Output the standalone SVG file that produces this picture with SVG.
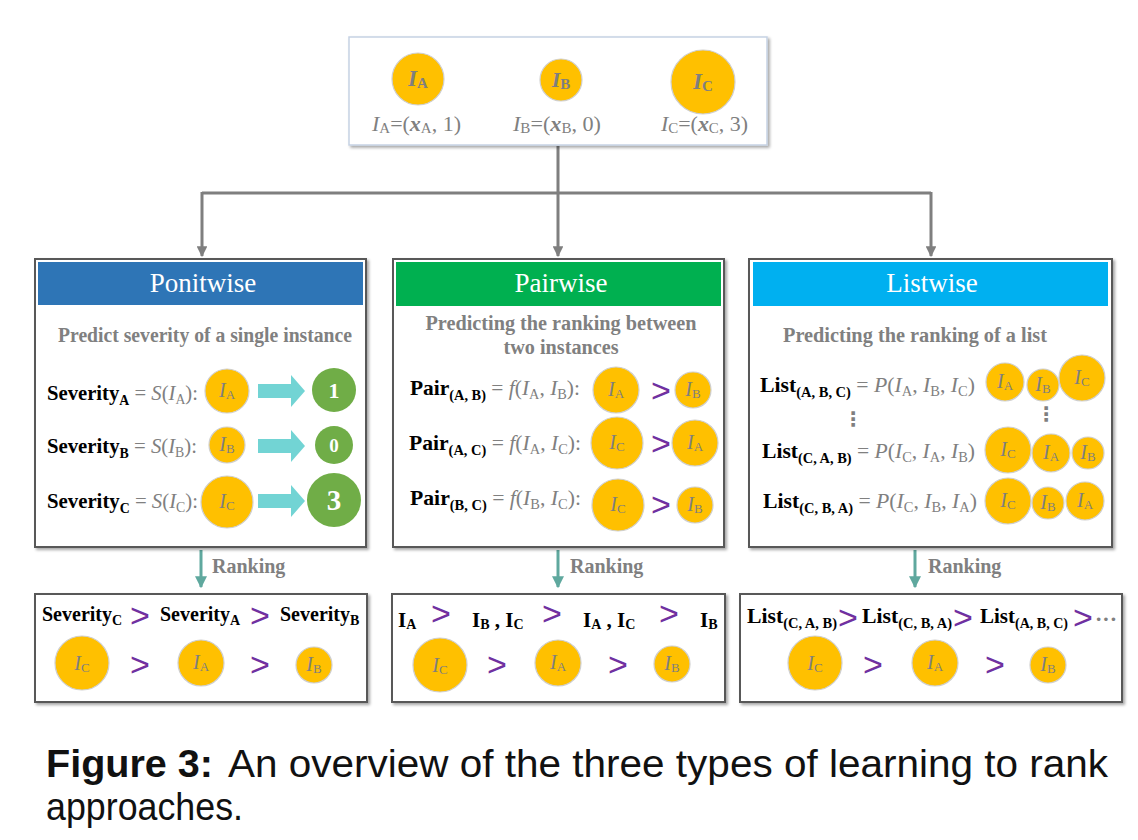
<svg xmlns="http://www.w3.org/2000/svg" width="1138" height="840" viewBox="0 0 1138 840">
<style>
.ser{font-family:"Liberation Serif","Times New Roman",serif}
.b{font-weight:bold}
.i{font-style:italic}
.gr{fill:#808080}
.bk{fill:#000}
.panel{fill:#fff;stroke:#595959;stroke-width:2}
.yc{fill:#ffc000;stroke:#cfcfcf;stroke-width:1.2}
.gc{fill:#70ad47}
.ci{font-family:"Liberation Serif","Times New Roman",serif;font-style:italic;fill:#7f7f7f;font-size:20px;text-anchor:middle}
.cs{font-size:13px;font-style:normal}
.lab{font-size:21px}
.sub{font-size:14px}
.title{font-family:"Liberation Serif","Times New Roman",serif;font-size:27px;fill:#fff;text-anchor:middle}
.subt{font-family:"Liberation Serif","Times New Roman",serif;font-size:20px;font-weight:bold;fill:#808080;text-anchor:middle}
.gt{font-family:"Liberation Sans",Arial,sans-serif;font-size:34px;fill:#7030a0;text-anchor:middle}
.num{font-family:"Liberation Serif","Times New Roman",serif;font-weight:bold;fill:#fff;text-anchor:middle}
.rk{font-family:"Liberation Serif","Times New Roman",serif;font-size:20px;font-weight:bold;fill:#808080}
.conn{fill:none;stroke:#7f7f7f;stroke-width:3}
.rarr{fill:none;stroke:#5fa89e;stroke-width:3}
.cyan{fill:#72d4d4}
.cap{font-family:"Liberation Sans",Arial,sans-serif;font-size:38px;fill:#111}
</style>
<defs>
<marker id="ah" viewBox="0 0 10 10" refX="9" refY="5" markerWidth="3.6" markerHeight="3.6" orient="auto" markerUnits="strokeWidth"><path d="M0,0 L10,5 L0,10 Z" fill="#7f7f7f"/></marker>
<marker id="ah2" viewBox="0 0 10 10" refX="9" refY="5" markerWidth="4" markerHeight="4" orient="auto" markerUnits="strokeWidth"><path d="M0,0 L10,5 L0,10 Z" fill="#5fa89e"/></marker>
<filter id="sh" x="-5%" y="-5%" width="110%" height="115%"><feDropShadow dx="2" dy="2" stdDeviation="1.5" flood-color="#000" flood-opacity="0.35"/></filter>
</defs>
<rect width="1138" height="840" fill="#fff"/>

<!-- connectors -->
<g id="connectors">
<path class="conn" d="M558,146 V193 M202,193 H931"/>
<path class="conn" d="M202,192 V256" marker-end="url(#ah)"/>
<path class="conn" d="M558,192 V256" marker-end="url(#ah)"/>
<path class="conn" d="M931,192 V256" marker-end="url(#ah)"/>
<path class="rarr" d="M201,550 V587" marker-end="url(#ah2)"/>
<path class="rarr" d="M558,550 V587" marker-end="url(#ah2)"/>
<path class="rarr" d="M915,550 V587" marker-end="url(#ah2)"/>
<text class="rk" x="212" y="573">Ranking</text>
<text class="rk" x="570" y="573">Ranking</text>
<text class="rk" x="928" y="573">Ranking</text>
</g>

<!-- top instances box -->
<g id="instances">
<rect x="349" y="37" width="418" height="108" fill="#fff" stroke="#c6d2e4" stroke-width="1.5" filter="url(#sh)"/>
<circle class="yc" cx="418" cy="79" r="26"/>
<text class="ci b" x="418" y="86" style="font-size:23px">I<tspan class="cs" style="font-size:15px" dy="2">A</tspan></text>
<circle class="yc" cx="561" cy="80" r="21"/>
<text class="ci b" x="561" y="87" style="font-size:22px">I<tspan class="cs" style="font-size:15px" dy="2">B</tspan></text>
<circle class="yc" cx="703" cy="82" r="32"/>
<text class="ci b" x="703" y="89" style="font-size:23px">I<tspan class="cs" style="font-size:15px" dy="2">C</tspan></text>
<text class="ser gr" x="372" y="131" style="font-size:22px" textLength="89" lengthAdjust="spacingAndGlyphs"><tspan class="i">I</tspan><tspan style="font-size:15px" dy="2">A</tspan><tspan dy="-2">=(</tspan><tspan class="b i">x</tspan><tspan style="font-size:15px" dy="2">A</tspan><tspan dy="-2">, 1)</tspan></text>
<text class="ser gr" x="513" y="131" style="font-size:22px" textLength="88" lengthAdjust="spacingAndGlyphs"><tspan class="i">I</tspan><tspan style="font-size:15px" dy="2">B</tspan><tspan dy="-2">=(</tspan><tspan class="b i">x</tspan><tspan style="font-size:15px" dy="2">B</tspan><tspan dy="-2">, 0)</tspan></text>
<text class="ser gr" x="661" y="131" style="font-size:22px" textLength="87" lengthAdjust="spacingAndGlyphs"><tspan class="i">I</tspan><tspan style="font-size:15px" dy="2">C</tspan><tspan dy="-2">=(</tspan><tspan class="b i">x</tspan><tspan style="font-size:15px" dy="2">C</tspan><tspan dy="-2">, 3)</tspan></text>
</g>

<!-- Pointwise panel -->
<g id="pointwise">
<rect class="panel" x="35" y="259" width="331" height="288" filter="url(#sh)"/>
<rect x="38" y="262" width="325" height="43" fill="#2e75b6"/>
<text class="title" x="203" y="292">Ponitwise</text>
<text class="subt" x="205" y="342" textLength="294" lengthAdjust="spacingAndGlyphs">Predict severity of a single instance</text>
<text class="ser lab" x="47" y="400" textLength="151" lengthAdjust="spacingAndGlyphs"><tspan class="b">Severity</tspan><tspan class="b sub" dy="5">A</tspan><tspan class="gr" dy="-5"> = </tspan><tspan class="gr i">S</tspan><tspan class="gr">(</tspan><tspan class="gr i">I</tspan><tspan class="gr sub" dy="4">A</tspan><tspan class="gr" dy="-4">):</tspan></text>
<text class="ser lab" x="47" y="453" textLength="150" lengthAdjust="spacingAndGlyphs"><tspan class="b">Severity</tspan><tspan class="b sub" dy="5">B</tspan><tspan class="gr" dy="-5"> = </tspan><tspan class="gr i">S</tspan><tspan class="gr">(</tspan><tspan class="gr i">I</tspan><tspan class="gr sub" dy="4">B</tspan><tspan class="gr" dy="-4">):</tspan></text>
<text class="ser lab" x="47" y="508" textLength="151" lengthAdjust="spacingAndGlyphs"><tspan class="b">Severity</tspan><tspan class="b sub" dy="5">C</tspan><tspan class="gr" dy="-5"> = </tspan><tspan class="gr i">S</tspan><tspan class="gr">(</tspan><tspan class="gr i">I</tspan><tspan class="gr sub" dy="4">C</tspan><tspan class="gr" dy="-4">):</tspan></text>
<circle class="yc" cx="227" cy="391" r="22"/>
<text class="ci" x="227" y="397">I<tspan class="cs" dy="2">A</tspan></text>
<circle class="yc" cx="227" cy="445" r="18"/>
<text class="ci" x="227" y="451">I<tspan class="cs" dy="2">B</tspan></text>
<circle class="yc" cx="227" cy="502" r="26"/>
<text class="ci" x="227" y="508">I<tspan class="cs" dy="2">C</tspan></text>
<path class="cyan" d="M258,384 H291 V375 L305,391 L291,407 V398 H258 Z"/>
<path class="cyan" d="M258,439 H291 V430 L305,446 L291,462 V453 H258 Z"/>
<path class="cyan" d="M258,494 H291 V485 L305,501 L291,517 V508 H258 Z"/>
<circle class="gc" cx="334" cy="390" r="22"/>
<text class="num" x="334" y="398" style="font-size:22px">1</text>
<circle class="gc" cx="334" cy="445" r="19"/>
<text class="num" x="334" y="452" style="font-size:19px">0</text>
<circle class="gc" cx="334" cy="500" r="27"/>
<text class="num" x="334" y="510" style="font-size:29px">3</text>
</g>

<!-- Pairwise panel -->
<g id="pairwise">
<rect class="panel" x="393" y="259" width="331" height="288" filter="url(#sh)"/>
<rect x="396" y="262" width="325" height="44" fill="#00b050"/>
<text class="title" x="561" y="292">Pairwise</text>
<text class="subt" x="561" y="330" textLength="271" lengthAdjust="spacingAndGlyphs">Predicting the ranking between</text>
<text class="subt" x="561" y="354" textLength="115" lengthAdjust="spacingAndGlyphs">two instances</text>
<text class="ser lab" x="410" y="395" textLength="170" lengthAdjust="spacingAndGlyphs"><tspan class="b">Pair</tspan><tspan class="b sub" dy="5">(A, B)</tspan><tspan class="gr" dy="-5"> = </tspan><tspan class="gr i">f</tspan><tspan class="gr">(</tspan><tspan class="gr i">I</tspan><tspan class="gr sub" dy="4">A</tspan><tspan class="gr" dy="-4">, </tspan><tspan class="gr i">I</tspan><tspan class="gr sub" dy="4">B</tspan><tspan class="gr" dy="-4">):</tspan></text>
<text class="ser lab" x="409" y="450" textLength="172" lengthAdjust="spacingAndGlyphs"><tspan class="b">Pair</tspan><tspan class="b sub" dy="5">(A, C)</tspan><tspan class="gr" dy="-5"> = </tspan><tspan class="gr i">f</tspan><tspan class="gr">(</tspan><tspan class="gr i">I</tspan><tspan class="gr sub" dy="4">A</tspan><tspan class="gr" dy="-4">, </tspan><tspan class="gr i">I</tspan><tspan class="gr sub" dy="4">C</tspan><tspan class="gr" dy="-4">):</tspan></text>
<text class="ser lab" x="410" y="505" textLength="171" lengthAdjust="spacingAndGlyphs"><tspan class="b">Pair</tspan><tspan class="b sub" dy="5">(B, C)</tspan><tspan class="gr" dy="-5"> = </tspan><tspan class="gr i">f</tspan><tspan class="gr">(</tspan><tspan class="gr i">I</tspan><tspan class="gr sub" dy="4">B</tspan><tspan class="gr" dy="-4">, </tspan><tspan class="gr i">I</tspan><tspan class="gr sub" dy="4">C</tspan><tspan class="gr" dy="-4">):</tspan></text>
<circle class="yc" cx="616" cy="390" r="23"/>
<text class="ci" x="616" y="396">I<tspan class="cs" dy="2">A</tspan></text>
<text class="gt" x="661" y="402">&gt;</text>
<circle class="yc" cx="693" cy="390" r="18"/>
<text class="ci" x="693" y="396">I<tspan class="cs" dy="2">B</tspan></text>
<circle class="yc" cx="617" cy="443" r="26"/>
<text class="ci" x="617" y="449">I<tspan class="cs" dy="2">C</tspan></text>
<text class="gt" x="661" y="455">&gt;</text>
<circle class="yc" cx="695" cy="443" r="23"/>
<text class="ci" x="695" y="449">I<tspan class="cs" dy="2">A</tspan></text>
<circle class="yc" cx="618" cy="505" r="26"/>
<text class="ci" x="618" y="511">I<tspan class="cs" dy="2">C</tspan></text>
<text class="gt" x="661" y="516">&gt;</text>
<circle class="yc" cx="695" cy="505" r="18"/>
<text class="ci" x="695" y="511">I<tspan class="cs" dy="2">B</tspan></text>
</g>

<!-- Listwise panel -->
<g id="listwise">
<rect class="panel" x="749" y="259" width="363" height="288" filter="url(#sh)"/>
<rect x="753" y="262" width="355" height="44" fill="#00b0f0"/>
<text class="title" x="932" y="292">Listwise</text>
<text class="subt" x="915" y="342" textLength="264" lengthAdjust="spacingAndGlyphs">Predicting the ranking of a list</text>
<text class="ser lab" x="760" y="392" textLength="215" lengthAdjust="spacingAndGlyphs"><tspan class="b">List</tspan><tspan class="b sub" dy="5">(A, B, C)</tspan><tspan class="gr" dy="-5"> = </tspan><tspan class="gr i">P</tspan><tspan class="gr">(</tspan><tspan class="gr i">I</tspan><tspan class="gr sub" dy="4">A</tspan><tspan class="gr" dy="-4">, </tspan><tspan class="gr i">I</tspan><tspan class="gr sub" dy="4">B</tspan><tspan class="gr" dy="-4">, </tspan><tspan class="gr i">I</tspan><tspan class="gr sub" dy="4">C</tspan><tspan class="gr" dy="-4">)</tspan></text>
<text class="ser lab" x="762" y="458" textLength="213" lengthAdjust="spacingAndGlyphs"><tspan class="b">List</tspan><tspan class="b sub" dy="5">(C, A, B)</tspan><tspan class="gr" dy="-5"> = </tspan><tspan class="gr i">P</tspan><tspan class="gr">(</tspan><tspan class="gr i">I</tspan><tspan class="gr sub" dy="4">C</tspan><tspan class="gr" dy="-4">, </tspan><tspan class="gr i">I</tspan><tspan class="gr sub" dy="4">A</tspan><tspan class="gr" dy="-4">, </tspan><tspan class="gr i">I</tspan><tspan class="gr sub" dy="4">B</tspan><tspan class="gr" dy="-4">)</tspan></text>
<text class="ser lab" x="763" y="508" textLength="214" lengthAdjust="spacingAndGlyphs"><tspan class="b">List</tspan><tspan class="b sub" dy="5">(C, B, A)</tspan><tspan class="gr" dy="-5"> = </tspan><tspan class="gr i">P</tspan><tspan class="gr">(</tspan><tspan class="gr i">I</tspan><tspan class="gr sub" dy="4">C</tspan><tspan class="gr" dy="-4">, </tspan><tspan class="gr i">I</tspan><tspan class="gr sub" dy="4">B</tspan><tspan class="gr" dy="-4">, </tspan><tspan class="gr i">I</tspan><tspan class="gr sub" dy="4">A</tspan><tspan class="gr" dy="-4">)</tspan></text>
<text x="853" y="426" style="font-family:'DejaVu Sans',sans-serif;font-size:20px;font-weight:bold;fill:#7f7f7f;text-anchor:middle">⋮</text>
<text x="1046" y="421" style="font-family:'DejaVu Sans',sans-serif;font-size:20px;font-weight:bold;fill:#7f7f7f;text-anchor:middle">⋮</text>
<circle class="yc" cx="1005" cy="382" r="19"/>
<text class="ci" x="1005" y="388">I<tspan class="cs" dy="2">A</tspan></text>
<circle class="yc" cx="1043" cy="385" r="16"/>
<text class="ci" x="1043" y="391">I<tspan class="cs" dy="2">B</tspan></text>
<circle class="yc" cx="1082" cy="378" r="23"/>
<text class="ci" x="1082" y="384">I<tspan class="cs" dy="2">C</tspan></text>
<circle class="yc" cx="1008" cy="450" r="23"/>
<text class="ci" x="1008" y="456">I<tspan class="cs" dy="2">C</tspan></text>
<circle class="yc" cx="1051" cy="453" r="19"/>
<text class="ci" x="1051" y="459">I<tspan class="cs" dy="2">A</tspan></text>
<circle class="yc" cx="1088" cy="453" r="16"/>
<text class="ci" x="1088" y="459">I<tspan class="cs" dy="2">B</tspan></text>
<circle class="yc" cx="1008" cy="501" r="23"/>
<text class="ci" x="1008" y="507">I<tspan class="cs" dy="2">C</tspan></text>
<circle class="yc" cx="1048" cy="503" r="16"/>
<text class="ci" x="1048" y="509">I<tspan class="cs" dy="2">B</tspan></text>
<circle class="yc" cx="1085" cy="501" r="19"/>
<text class="ci" x="1085" y="507">I<tspan class="cs" dy="2">A</tspan></text>
</g>

<!-- Pointwise result -->
<g id="pointwise-result">
<rect class="panel" x="35" y="594" width="332" height="108" filter="url(#sh)"/>
<text class="ser b" x="42" y="621" style="font-size:20px">Severity<tspan class="sub" dy="4">C</tspan></text>
<text class="gt" x="140" y="627">&gt;</text>
<text class="ser b" x="160" y="621" style="font-size:20px">Severity<tspan class="sub" dy="4">A</tspan></text>
<text class="gt" x="260" y="627">&gt;</text>
<text class="ser b" x="280" y="621" style="font-size:20px">Severity<tspan class="sub" dy="4">B</tspan></text>
<circle class="yc" cx="82" cy="663" r="27"/>
<text class="ci" x="82" y="670">I<tspan class="cs" dy="2">C</tspan></text>
<text class="gt" x="140" y="676">&gt;</text>
<circle class="yc" cx="201" cy="663" r="23"/>
<text class="ci" x="201" y="669">I<tspan class="cs" dy="2">A</tspan></text>
<text class="gt" x="260" y="676">&gt;</text>
<circle class="yc" cx="314" cy="665" r="18"/>
<text class="ci" x="314" y="671">I<tspan class="cs" dy="2">B</tspan></text>
</g>

<!-- Pairwise result -->
<g id="pairwise-result">
<rect class="panel" x="392" y="594" width="333" height="108" filter="url(#sh)"/>
<text class="ser lab b" x="398" y="627">I<tspan class="sub" dy="2">A</tspan></text>
<text class="gt" x="441" y="625">&gt;</text>
<text class="ser lab b" x="472" y="627">I<tspan class="sub" dy="2">B</tspan><tspan dy="-2"> , </tspan>I<tspan class="sub" dy="2">C</tspan></text>
<text class="gt" x="552" y="625">&gt;</text>
<text class="ser lab b" x="583" y="627">I<tspan class="sub" dy="2">A</tspan><tspan dy="-2"> ,  </tspan>I<tspan class="sub" dy="2">C</tspan></text>
<text class="gt" x="669" y="625">&gt;</text>
<text class="ser lab b" x="700" y="627">I<tspan class="sub" dy="2">B</tspan></text>
<circle class="yc" cx="440" cy="665" r="27"/>
<text class="ci" x="440" y="672">I<tspan class="cs" dy="2">C</tspan></text>
<text class="gt" x="497" y="676">&gt;</text>
<circle class="yc" cx="558" cy="663" r="23"/>
<text class="ci" x="558" y="669">I<tspan class="cs" dy="2">A</tspan></text>
<text class="gt" x="618" y="676">&gt;</text>
<circle class="yc" cx="672" cy="664" r="18"/>
<text class="ci" x="672" y="670">I<tspan class="cs" dy="2">B</tspan></text>
</g>

<!-- Listwise result -->
<g id="listwise-result">
<rect class="panel" x="740" y="594" width="382" height="108" filter="url(#sh)"/>
<text class="ser lab b" x="747" y="623" textLength="90" lengthAdjust="spacingAndGlyphs">List<tspan class="sub" dy="5">(C, A, B)</tspan></text>
<text class="gt" x="848" y="629">&gt;</text>
<text class="ser lab b" x="862" y="623" textLength="90" lengthAdjust="spacingAndGlyphs">List<tspan class="sub" dy="5">(C, B, A)</tspan></text>
<text class="gt" x="963" y="629">&gt;</text>
<text class="ser lab b" x="980" y="623" textLength="88" lengthAdjust="spacingAndGlyphs">List<tspan class="sub" dy="5">(A, B, C)</tspan></text>
<text class="gt" x="1083" y="629">&gt;</text>
<text class="ser b" x="1106" y="626" style="font-size:22px;fill:#7f7f7f;text-anchor:middle">···</text>
<circle class="yc" cx="815" cy="663" r="27"/>
<text class="ci" x="815" y="670">I<tspan class="cs" dy="2">C</tspan></text>
<text class="gt" x="873" y="676">&gt;</text>
<circle class="yc" cx="935" cy="663" r="23"/>
<text class="ci" x="935" y="669">I<tspan class="cs" dy="2">A</tspan></text>
<text class="gt" x="995" y="676">&gt;</text>
<circle class="yc" cx="1048" cy="665" r="18"/>
<text class="ci" x="1048" y="671">I<tspan class="cs" dy="2">B</tspan></text>
</g>

<!-- caption -->
<text class="cap" x="46" y="777" style="font-weight:bold" textLength="167" lengthAdjust="spacingAndGlyphs">Figure 3:</text>
<text class="cap" x="228" y="777" textLength="880" lengthAdjust="spacingAndGlyphs">An overview of the three types of learning to rank</text>
<text class="cap" x="46" y="820" textLength="197" lengthAdjust="spacingAndGlyphs">approaches.</text>
</svg>
